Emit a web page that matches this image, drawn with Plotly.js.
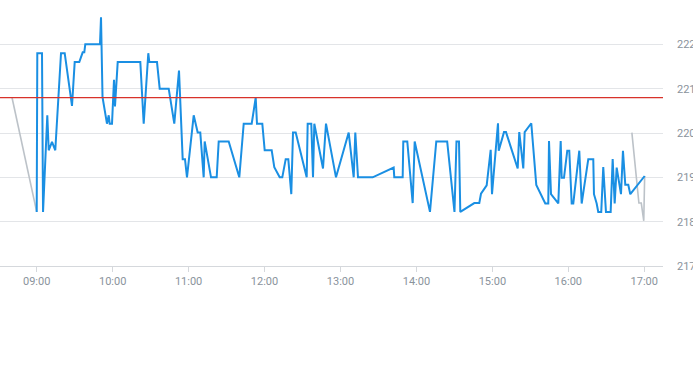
<!DOCTYPE html>
<html>
<head>
<meta charset="utf-8">
<script src="https://cdn.plot.ly/plotly-3.0.1.min.js"></script>
<style>
  html, body { margin: 0; padding: 0; background: #ffffff; }
  #chart { width: 693px; height: 365px; }
</style>
</head>
<body>
<div id="chart"></div>
<script>
var day = '2024-01-02 ';

// Regular session (blue)
var sessionTimes = [
  '09:00:00','09:00:28','09:04:11','09:05:00','09:08:22','09:09:29','09:12:05','09:14:41','09:19:12','09:22:07',
  '09:27:53','09:30:01','09:33:39','09:36:20','09:37:36','09:38:23','09:50:00','09:50:48','09:52:00','09:55:30',
  '09:56:53','09:57:40','09:59:29','10:01:04','10:01:51','10:04:00','10:21:51','10:24:32','10:28:10','10:28:57',
  '10:35:02','10:37:10','10:44:17','10:48:42','10:52:25','10:55:20','10:57:09','10:58:44','11:04:02','11:07:11',
  '11:09:14','11:11:55','11:12:43','11:17:42','11:22:12','11:23:47','11:31:41','11:40:03','11:43:32','11:49:51',
  '11:50:53','11:53:01','11:54:02','11:58:14','12:00:07','12:05:39','12:07:42','12:11:58','12:14:02','12:16:43',
  '12:18:46','12:21:08','12:22:29','12:24:37','12:33:18','12:34:05','12:36:56','12:38:17','12:39:19','12:46:11',
  '12:48:33','12:56:27','13:06:29','13:10:26','13:11:42','13:13:50','13:25:26','13:42:01','13:42:30','13:49:08',
  '13:49:37','13:52:46','13:57:02','13:58:37','14:10:42','14:15:41','14:24:17','14:30:03','14:31:38','14:33:37',
  '14:34:39','14:45:43','14:49:40','14:51:00','14:55:30','14:58:40','14:59:42','15:04:26','15:05:00','15:09:11',
  '15:10:45','15:20:00','15:21:15','15:24:25','15:25:31','15:30:44','15:34:41','15:41:48','15:44:10','15:44:44',
  '15:46:19','15:52:05','15:53:58','15:54:45','15:56:34','15:59:10','16:00:45','16:02:39','16:03:55','16:08:40',
  '16:10:33','16:15:46','16:19:43','16:20:16','16:22:24','16:23:39','16:26:01','16:27:36','16:29:44','16:33:27',
  '16:35:02','16:36:37','16:38:12','16:41:36','16:43:10','16:45:00','16:47:22','16:48:57','17:00:19'
];
var sessionValues = [
  218.22,221.80,221.80,218.22,220.40,219.61,219.80,219.61,221.80,221.80,
  220.61,221.60,221.60,221.82,221.82,222.00,222.00,222.61,220.81,220.21,
  220.40,220.21,220.21,221.20,220.60,221.60,221.60,220.21,221.80,221.60,
  221.60,221.00,221.00,220.21,221.41,219.41,219.41,219.00,220.40,220.01,
  220.01,219.00,219.81,219.00,219.00,219.81,219.81,219.00,220.21,220.21,
  220.40,220.80,220.21,220.21,219.61,219.61,219.23,219.00,219.00,219.41,
  219.41,218.62,220.01,220.01,219.00,220.21,220.21,219.00,220.21,219.20,
  220.21,219.00,220.01,219.00,220.01,219.00,219.00,219.22,219.00,219.00,
  219.81,219.81,218.42,219.81,218.22,219.81,219.81,218.22,219.81,219.81,
  218.22,218.42,218.42,218.63,218.82,219.62,218.62,220.22,219.60,220.02,
  220.02,219.20,220.02,219.20,220.02,220.22,218.83,218.41,218.41,219.82,
  218.62,218.41,219.82,218.99,218.99,219.60,219.60,218.41,218.41,219.60,
  218.41,219.41,219.41,218.62,218.41,218.22,218.22,219.23,218.22,218.22,
  219.41,218.41,219.22,218.62,219.60,218.83,218.83,218.62,219.03
];

// Pre-market (grey)
var preTimes = ['08:40:29', '09:00:00'];
var preValues = [220.80, 218.22];

// Post-market (grey)
var postTimes = ['16:50:13', '16:55:46', '16:57:38', '16:59:36', '17:00:19'];
var postValues = [220.01, 218.42, 218.42, 218.02, 219.03];

// Previous close reference line
var prevClose = 220.8;

// Axis ticks
var yTickValues = [217, 218, 219, 220, 221, 222];
var xTickLabels = ['09:00','10:00','11:00','12:00','13:00','14:00','15:00','16:00','17:00'];

function withDay(arr) { return arr.map(function (t) { return day + t; }); }

var traces = [
  {
    x: withDay(preTimes), y: preValues, type: 'scatter', mode: 'lines',
    line: { color: '#bcc2c8', width: 1.6 }, hoverinfo: 'skip', showlegend: false
  },
  {
    x: withDay(postTimes), y: postValues, type: 'scatter', mode: 'lines',
    line: { color: '#bcc2c8', width: 1.6 }, hoverinfo: 'skip', showlegend: false
  },
  {
    x: withDay(sessionTimes), y: sessionValues, type: 'scatter', mode: 'lines',
    line: { color: '#1a8fe3', width: 2 }, hoverinfo: 'skip', showlegend: false
  }
];

var tickFont = { family: 'Roboto, "Liberation Sans", Arial, sans-serif', size: 11, color: '#8a939c' };

var layout = {
  width: 693, height: 365,
  margin: { l: 0, r: 30, t: 0, b: 99, pad: 0 },
  paper_bgcolor: '#ffffff', plot_bgcolor: '#ffffff',
  showlegend: false,
  xaxis: {
    type: 'date',
    range: [day + '08:31:00', day + '17:14:48'],
    tickvals: withDay(xTickLabels.map(function (t) { return t + ':00'; })),
    ticktext: xTickLabels,
    showgrid: false, zeroline: false,
    showline: true, linecolor: '#d5d8dc', linewidth: 1,
    ticks: 'outside', ticklen: 5, tickcolor: '#d5d8dc', tickwidth: 1,
    tickfont: tickFont, fixedrange: true
  },
  yaxis: {
    side: 'right',
    range: [217, 223],
    tickvals: yTickValues,
    ticktext: yTickValues.map(String),
    showgrid: true, gridcolor: '#e3e5e8', gridwidth: 1,
    zeroline: false, showline: false,
    ticks: '', ticklabelstandoff: 13,
    tickfont: tickFont, fixedrange: true
  },
  shapes: [
    {
      type: 'line', xref: 'paper', yref: 'y', layer: 'above',
      x0: 0, x1: 1, y0: prevClose, y1: prevClose,
      line: { color: '#d8322a', width: 1.2 }
    }
  ]
};

Plotly.newPlot('chart', traces, layout, { displayModeBar: false, staticPlot: true });
</script>
</body>
</html>
